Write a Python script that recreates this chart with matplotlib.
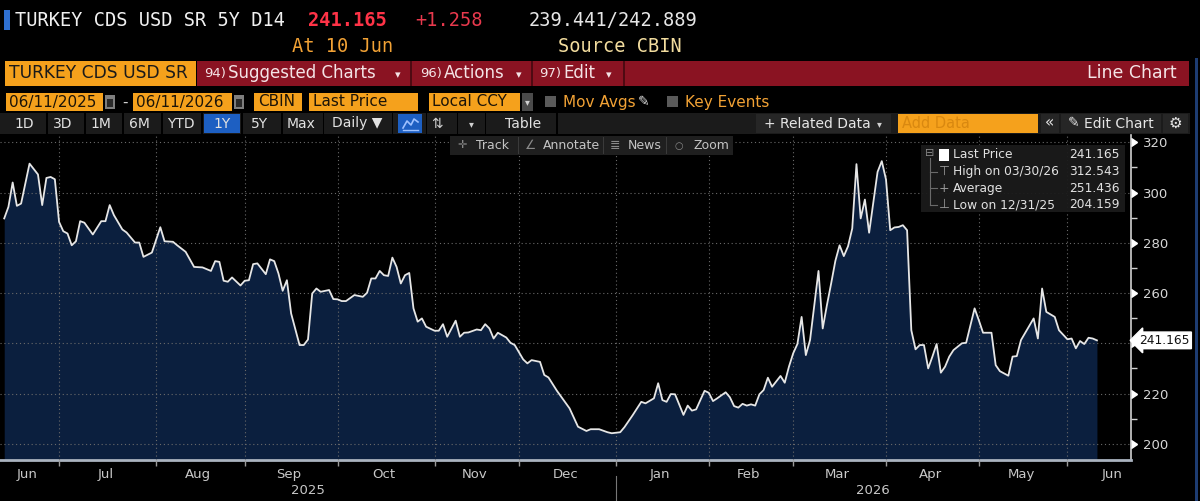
import numpy as np
import pandas as pd
import matplotlib
matplotlib.use("Agg")
import matplotlib.pyplot as plt
from matplotlib.patches import Rectangle
from matplotlib.lines import Line2D
import matplotlib.transforms as mtransforms

# ---------------- data ----------------
start_date = "2025-06-11"
end_axis_date = "2026-06-30"
# trading-day number counted from 2025-06-11 (business days)
trading_day = [1, 2, 3, 4, 5, 7, 9, 10, 11, 12, 13, 14, 15, 16, 17, 18, 19, 20, 22, 24,
               25, 26, 27, 29, 30, 32, 33, 34, 36, 38, 39, 41, 42, 44, 46, 48, 50, 51, 52, 53,
               54, 55, 57, 58, 59, 60, 61, 63, 64, 65, 66, 67, 68, 69, 71, 72, 73, 74, 75, 76,
               78, 79, 80, 81, 82, 84, 86, 87, 88, 89, 90, 91, 92, 93, 94, 95, 96, 97, 98, 99,
               100, 101, 103, 104, 105, 106, 108, 109, 110, 111, 113, 114, 115, 116, 117, 118, 120, 121, 122, 124,
               125, 126, 128, 129, 130, 132, 135, 137, 139, 140, 142, 144, 145, 147, 148, 150, 152, 153, 155, 156,
               157, 158, 159, 160, 162, 163, 164, 165, 167, 168, 169, 170, 172, 173, 174, 175, 176, 177, 178, 179,
               180, 181, 182, 183, 185, 186, 187, 188, 189, 190, 191, 192, 194, 195, 196, 197, 198, 199, 200, 201,
               202, 203, 204, 205, 206, 208, 209, 210, 211, 212, 213, 214, 215, 216, 217, 218, 219, 220, 221, 222,
               223, 224, 225, 226, 228, 229, 231, 232, 233, 235, 236, 237, 239, 240, 241, 242, 245, 246, 247, 248,
               250, 251, 253, 254, 255, 256, 257, 258, 259, 260]
cds_spread = [289.7, 294.3, 304.0, 294.7, 295.6, 311.5, 307.2, 295.0, 305.8, 306.2, 305.3, 288.3, 284.6, 283.7, 279.0, 280.6, 288.6, 288.0, 283.3, 288.6,
              288.6, 295.0, 291.0, 285.3, 284.1, 280.1, 280.1, 274.4, 276.1, 286.2, 280.6, 280.4, 279.0, 276.4, 270.4, 270.2, 268.8, 272.7, 272.4, 264.9,
              264.5, 266.2, 263.0, 264.9, 265.1, 271.5, 271.8, 267.5, 273.4, 272.7, 267.8, 260.9, 265.1, 251.9, 239.3, 239.3, 241.5, 259.8, 261.8, 260.5,
              261.2, 257.6, 257.5, 256.8, 256.8, 259.2, 258.5, 260.1, 265.8, 265.8, 268.8, 267.1, 266.8, 274.1, 270.4, 263.8, 267.1, 268.0, 253.9, 248.6,
              249.9, 246.6, 245.0, 245.0, 247.6, 242.6, 249.0, 242.6, 244.2, 244.3, 245.5, 245.2, 247.6, 245.9, 241.9, 244.2, 242.3, 240.2, 239.3, 233.6,
              232.0, 233.3, 232.6, 227.4, 226.4, 221.1, 214.1, 206.8, 205.1, 205.8, 205.8, 204.6, 204.2, 204.6, 206.6, 211.5, 216.7, 216.1, 218.1, 224.1,
              217.4, 216.7, 219.8, 219.7, 211.5, 215.2, 213.2, 213.7, 221.1, 220.3, 217.0, 218.1, 220.5, 218.5, 215.0, 214.4, 215.9, 215.2, 215.7, 215.2,
              219.7, 221.4, 226.3, 222.7, 227.0, 224.3, 230.7, 236.0, 239.7, 250.5, 235.3, 241.3, 268.8, 245.9, 255.2, 263.8, 272.8, 279.0, 274.7, 278.6,
              285.7, 311.3, 289.7, 297.2, 284.0, 308.2, 312.5, 305.2, 285.0, 286.1, 286.3, 287.0, 285.0, 245.2, 237.6, 239.3, 239.3, 230.0, 234.7, 239.7,
              228.3, 230.7, 234.7, 237.3, 240.0, 240.2, 253.9, 249.2, 244.2, 244.2, 231.3, 228.9, 227.1, 234.7, 234.9, 241.3, 249.9, 241.9, 261.8, 252.5,
              250.5, 245.2, 241.6, 241.9, 238.0, 240.9, 239.7, 242.2, 241.9, 241.165]

ticker = "TURKEY CDS USD SR 5Y D14"
short_ticker = "TURKEY CDS USD SR"
last_price = 241.165
net_change = 1.258
bid_price, ask_price = 239.441, 242.889
as_of = "At 10 Jun"
source = "Source CBIN"
date_from, date_to = "06/11/2025", "06/11/2026"
high_value, high_date = 312.543, "03/30/26"
avg_value = 251.436
low_value, low_date = 204.159, "12/31/25"
y_ticks = [200, 220, 240, 260, 280, 300, 320]
y_minor_ticks = [210, 230, 250, 270, 290, 310]
period_buttons = ["1D", "3D", "1M", "6M", "YTD", "1Y", "5Y", "Max"]

# ---------------- style ----------------
ORANGE = "#f5a11c"
ORANGE_TXT = "#f2a235"
RED_BAR = "#8a1322"
FILL = "#0b1f3e"
W, H = 1200, 501
SANS = "DejaVu Sans"
MONO = "DejaVu Sans Mono"

fig = plt.figure(figsize=(12, 5.01), dpi=100, facecolor="black")


def fx(x):
    return x / W


def fy(y):
    return 1 - y / H


def rect(x0, y0, x1, y1, color, z=1, alpha=1.0):
    fig.add_artist(Rectangle((fx(x0), fy(y1)), (x1 - x0) / W, (y1 - y0) / H,
                             transform=fig.transFigure, facecolor=color,
                             edgecolor="none", zorder=z, alpha=alpha))


def txt(x, y, s, color, size, ha="left", family=SANS, weight="normal", z=5):
    fig.text(fx(x), fy(y), s, color=color, fontsize=size, ha=ha, va="center",
             family=family, weight=weight, zorder=z)


def fline(xs, ys, color, lw=1.0, z=5):
    fig.add_artist(Line2D([fx(v) for v in xs], [fy(v) for v in ys],
                          transform=fig.transFigure, color=color, lw=lw, zorder=z))


# ---------------- header ----------------
rect(4, 10, 10, 30, "#2e6fd0")
txt(15, 20, ticker, "#f0f0f0", 13.4, family=MONO)
txt(308, 20, f"{last_price:.3f}", "#ff3347", 13.4, family=MONO, weight="bold")
txt(415, 20, f"{net_change:+.3f}", "#e8394d", 13.4, family=MONO)
txt(529, 20, f"{bid_price:.3f}/{ask_price:.3f}", "#e6e6e6", 13.4, family=MONO)
txt(292, 47, as_of, ORANGE_TXT, 13.4, family=MONO)
txt(558, 47, source, "#f2dc9e", 13.4, family=MONO)

# row 3: security box + red menu bar
rect(5, 61, 196, 86, ORANGE)
txt(9, 73.5, short_ticker, "#1a1a1a", 12.3)
rect(197, 61, 1189, 86, RED_BAR)
for sx in (410, 531, 623):
    rect(sx, 61, sx + 2, 86, "#4e0a12", z=2)
MENU_TXT = "#f4e4e6"
txt(204, 74, "94)", MENU_TXT, 9.5)
txt(228, 73.5, "Suggested Charts", MENU_TXT, 12)
txt(398, 75, "▾", MENU_TXT, 8, ha="center")
txt(420, 74, "96)", MENU_TXT, 9.5)
txt(444, 73.5, "Actions", MENU_TXT, 12)
txt(519, 75, "▾", MENU_TXT, 8, ha="center")
txt(539, 74, "97)", MENU_TXT, 9.5)
txt(563, 73.5, "Edit", MENU_TXT, 12)
txt(609, 75, "▾", MENU_TXT, 8, ha="center")
txt(1177, 73.5, "Line Chart", MENU_TXT, 12.5, ha="right")

# row 4: date range & fields
DARK = "#1c1408"
rect(6, 93, 103, 111, ORANGE)
txt(9, 102, date_from, DARK, 11)
rect(105, 95, 115, 109, "#7e7e7e")
rect(107, 99, 113, 107, "#2a2a2a")
txt(125, 102, "-", "#d0d0d0", 11, ha="center")
rect(133, 93, 232, 111, ORANGE)
txt(136, 102, date_to, DARK, 11)
rect(234, 95, 244, 109, "#7e7e7e")
rect(236, 99, 242, 107, "#2a2a2a")
rect(254, 93, 302, 111, ORANGE)
txt(258, 102, "CBIN", DARK, 11)
rect(309, 93, 418, 111, ORANGE)
txt(313, 102, "Last Price", DARK, 11)
rect(429, 93, 520, 111, ORANGE)
txt(432, 102, "Local CCY", DARK, 11)
rect(522, 93, 533, 111, "#4a4a4a")
txt(527.5, 102, "▾", "#d0d0d0", 7, ha="center")
rect(545, 96, 556, 107, "#5a5a5a")
txt(563, 102, "Mov Avgs", ORANGE_TXT, 11)
txt(644, 102, "✎", "#e0e0e0", 10, ha="center")
rect(667, 96, 678, 107, "#5a5a5a")
txt(685, 102, "Key Events", ORANGE_TXT, 11)

# row 5: toolbar
rect(0, 113, 1190, 134, "#1b1b1b")
for sx in (46, 84, 122, 161, 201, 241, 281, 323, 392, 426, 457, 485, 556):
    rect(sx, 113, sx + 1.5, 134, "#000000", z=2)
btn_centers = [24, 62.5, 100.5, 139, 180.5, 222, 259.5, 301]
for label, cx in zip(period_buttons, btn_centers):
    if label == "1Y":
        rect(204, 114, 240, 133, "#1d5fc2", z=2)
    txt(cx, 123.5, label, "#e2e2e2", 10, ha="center")
txt(357, 123.5, "Daily ▼", "#e2e2e2", 10, ha="center")
rect(398, 114, 422, 133, "#1d5fc2", z=2)
fline([403, 407, 411, 414, 418], [128, 121, 125, 119, 122], "#9ec1ff", lw=1.2, z=6)
fline([403, 418], [130, 130], "#9ec1ff", lw=1.0, z=6)
txt(437, 123.5, "⇅", "#d0d0d0", 10, ha="center")
txt(471, 124, "▾", "#d0d0d0", 7, ha="center")
txt(523.5, 123.5, "Table", "#e2e2e2", 10, ha="center")
rect(756, 114, 891, 133, "#262626", z=2)
txt(764, 123.5, "+ Related Data", "#e6e6e6", 10)
txt(879, 124, "▾", "#d0d0d0", 7, ha="center")
rect(898, 114, 1038, 133, ORANGE, z=2)
txt(902, 123.5, "Add Data", "#d98810", 10.5)
rect(1041, 114, 1059, 133, "#262626", z=2)
txt(1050, 123, "«", "#e6e6e6", 11, ha="center")
rect(1061, 114, 1161, 133, "#262626", z=2)
txt(1068, 123.5, "✎", "#e6e6e6", 10)
txt(1084, 123.5, "Edit Chart", "#e6e6e6", 10)
rect(1163, 114, 1188, 133, "#262626", z=2)
txt(1175.5, 123.5, "⚙", "#e6e6e6", 11, ha="center")

# right window border
rect(1195, 58, 1197.5, 501, "#1d3c72")

# ---------------- chart ----------------
YMIN, YMAX = 193.55, 322.9
ax = fig.add_axes([0, 1 - 460 / H, 1130.7 / W, 325 / H])
ax.set_facecolor("black")

dates = pd.bdate_range(start_date, end_axis_date)
months = dates.to_period("M")
boundaries = [i for i in range(1, len(dates)) if months[i] != months[i - 1]]
month_idx = pd.Series(np.arange(len(dates)), index=months)
centers = month_idx.groupby(level=0).mean()
month_labels = [p.strftime("%b") for p in centers.index]
XMAX = 268.0

ax.fill_between(trading_day, cds_spread, YMIN, color=FILL, lw=0, zorder=1)
ax.plot(trading_day, cds_spread, color="#e6e6e6", lw=1.3, zorder=3,
        solid_joinstyle="round")

ax.set_xlim(0, XMAX)
ax.set_ylim(YMIN, YMAX)

ax.set_xticks(boundaries)
ax.set_xticklabels([])
ax.set_xticks(centers.values, minor=True)
ax.set_xticklabels(month_labels, minor=True)
ax.tick_params(axis="x", which="major", length=4, width=1, color="#9a9a9a", direction="out")
ax.tick_params(axis="x", which="minor", length=0, pad=6, labelsize=9.5, labelcolor="#c8c8c8")

ax.yaxis.tick_right()
ax.set_yticks(y_ticks)
# the last-price tag covers the nearest tick label, as in the terminal
ax.set_yticklabels(["" if abs(t - last_price) < 8 else str(t) for t in y_ticks])
ax.set_yticks(y_minor_ticks, minor=True)
ax.tick_params(axis="y", which="major", length=0, pad=9, labelsize=9.5, labelcolor="#d6d6d6")
ax.tick_params(axis="y", which="minor", length=4, width=1, color="#d0d0d0", direction="out")

ax.grid(True, which="major", color="#6a6a6a", linestyle=(0, (1, 2.5)), lw=0.8)
ax.set_axisbelow(False)

for s in ("left", "top"):
    ax.spines[s].set_visible(False)
ax.spines["right"].set_color("#d0d0d0")
ax.spines["right"].set_linewidth(1.2)
ax.spines["bottom"].set_color("#aab3bf")
ax.spines["bottom"].set_linewidth(2)

yt = mtransforms.blended_transform_factory(ax.transAxes, ax.transData)
xt = mtransforms.blended_transform_factory(ax.transData, ax.transAxes)
ax.plot([1.0] * len(y_ticks), y_ticks, ls="none", marker=9, ms=6, color="white",
        transform=yt, clip_on=False, zorder=6)

# year labels and separator
jan_idx = [i for i in boundaries if dates[i].month == 1][0]
ax.text((0 + jan_idx) / 2, -0.095, str(dates[0].year), transform=xt, ha="center",
        va="center", color="#c8c8c8", fontsize=9.5)
ax.text((jan_idx + XMAX) / 2, -0.095, str(dates[jan_idx].year), transform=xt, ha="center",
        va="center", color="#c8c8c8", fontsize=9.5)
ax.plot([jan_idx, jan_idx], [-0.05, -0.13], transform=xt, color="#777777", lw=0.8,
        clip_on=False)

# last price tag
ax.annotate(f"{last_price:.3f}", xy=(1.0, last_price), xycoords=yt, xytext=(6, 0),
            textcoords="offset points", ha="left", va="center", fontsize=8.8,
            color="#111111", annotation_clip=False, zorder=7,
            bbox=dict(boxstyle="larrow,pad=0.15", fc="white", ec="white"))

# ---------------- overlays on chart ----------------
rect(450, 136, 733, 155, "#1f1f1f", z=10)
for sx in (518, 603, 666):
    rect(sx, 137, sx + 1, 154, "#3a3a3a", z=11)
TB = "#c4c4c4"
txt(462, 145.5, "✛", "#8a8a8a", 8, ha="center", z=12)
txt(476, 145.5, "Track", TB, 9, z=12)
txt(531, 145.5, "∠", "#8a8a8a", 9, ha="center", z=12)
txt(543, 145.5, "Annotate", TB, 9, z=12)
txt(615, 145.5, "≣", "#8a8a8a", 9, ha="center", z=12)
txt(628, 145.5, "News", TB, 9, z=12)
txt(679, 145.5, "○", "#8a8a8a", 7, ha="center", z=12)
txt(693, 145.5, "Zoom", TB, 9, z=12)

# legend box
rect(921, 145, 1125, 212, "#1b1b1b", z=10, alpha=0.95)
rows_y = [155, 171.7, 188.3, 205]
LG = "#e2e2e2"
txt(930, 153, "⊟", "#8a8a8a", 8, ha="center", z=12)
fline([930, 930], [158, 205], "#6a6a6a", lw=0.8, z=11)
for yy in rows_y[1:]:
    fline([930, 937], [yy, yy], "#6a6a6a", lw=0.8, z=11)
rect(939, 149, 949, 161, "white", z=12)
txt(944, rows_y[1], "⊤", "#9a9a9a", 9, ha="center", z=12)
txt(944, rows_y[2], "+", "#9a9a9a", 9, ha="center", z=12)
txt(944, rows_y[3], "⊥", "#9a9a9a", 9, ha="center", z=12)
legend_labels = ["Last Price", f"High on {high_date}", "Average", f"Low on {low_date}"]
legend_values = [last_price, high_value, avg_value, low_value]
for yy, lab, val in zip(rows_y, legend_labels, legend_values):
    txt(953, yy, lab, LG, 8.8, z=12)
    txt(1120, yy, f"{val:.3f}", LG, 8.8, ha="right", z=12)

fig.savefig("out.png", dpi=100, facecolor="black")
